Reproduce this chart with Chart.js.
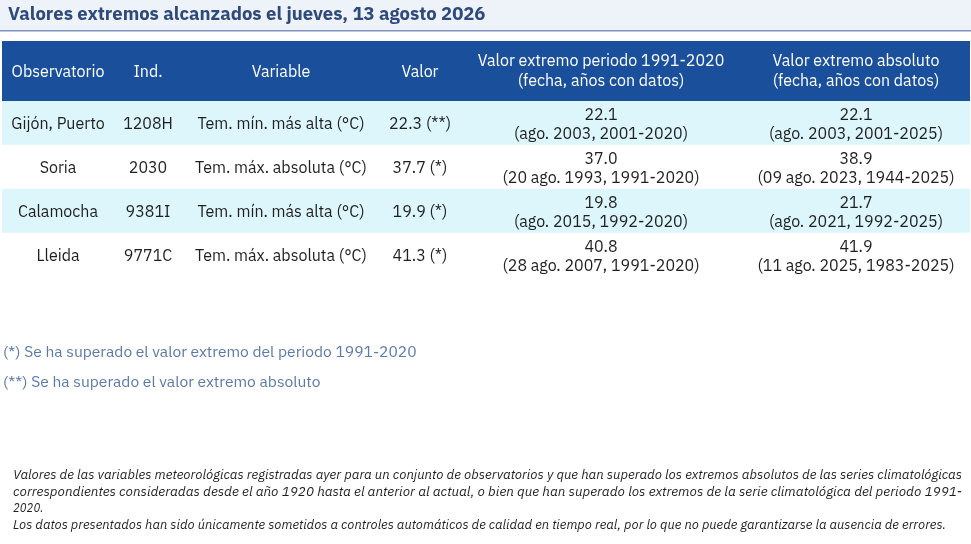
<!DOCTYPE html>
<html><head><meta charset="utf-8">
<script src="https://cdn.jsdelivr.net/npm/chart.js@4"></script>
<style>html,body{margin:0;padding:0;background:#fff;}#wrap{width:971px;height:544px;position:relative;}</style>
</head><body><div id="wrap"><canvas id="c"></canvas></div>
<script>
const titleText = 'Valores extremos alcanzados el jueves, 13 agosto 2026';
const headers = [['Observatorio'], ['Ind.'], ['Variable'], ['Valor'],
  ['Valor extremo periodo 1991-2020', '(fecha, años con datos)'],
  ['Valor extremo absoluto', '(fecha, años con datos)']];
const observatorios = ['Gijón, Puerto', 'Soria', 'Calamocha', 'Lleida'];
const indicativos = ['1208H', '2030', '9381I', '9771C'];
const variables = ['Tem. mín. más alta (°C)', 'Tem. máx. absoluta (°C)', 'Tem. mín. más alta (°C)', 'Tem. máx. absoluta (°C)'];
const valores = [22.3, 37.7, 19.9, 41.3];
const marcas = ['(**)', '(*)', '(*)', '(*)'];
const extPeriodoValor = [22.1, 37.0, 19.8, 40.8];
const extPeriodoFecha = ['(ago. 2003, 2001-2020)', '(20 ago. 1993, 1991-2020)', '(ago. 2015, 1992-2020)', '(28 ago. 2007, 1991-2020)'];
const extAbsValor = [22.1, 38.9, 21.7, 41.9];
const extAbsFecha = ['(ago. 2003, 2001-2025)', '(09 ago. 2023, 1944-2025)', '(ago. 2021, 1992-2025)', '(11 ago. 2025, 1983-2025)'];
const notas = ['(*) Se ha superado el valor extremo del periodo 1991-2020', '(**) Se ha superado el valor extremo absoluto'];
const pie = ['Valores de las variables meteorológicas registradas ayer para un conjunto de observatorios y que han superado los extremos absolutos de las series climatológicas',
  'correspondientes consideradas desde el año 1920 hasta el anterior al actual, o bien que han superado los extremos de la serie climatológica del periodo 1991-',
  '2020.',
  'Los datos presentados han sido únicamente sometidos a controles automáticos de calidad en tiempo real, por lo que no puede garantizarse la ausencia de errores.'];

// layout (not data)
const colCenters = [56, 146, 279, 418, 599, 854];
const FONT = '"IBM Plex Sans", "Noto Sans", sans-serif';
const rowColors = observatorios.map((_, i) => i % 2 === 0 ? '#ddf6fc' : '#ffffff');

const tablePlugin = {
  id: 'tablePlugin',
  beforeDraw(chart) {
    const ctx = chart.ctx, ca = chart.chartArea, xs = chart.scales.x;
    ctx.save();
    ctx.fillStyle = '#eef2f9';
    ctx.fillRect(0, 0, chart.width, 30);
    ctx.fillStyle = '#7d96c2';
    ctx.fillRect(0, 30, chart.width, 1.5);
    ctx.fillStyle = '#2e4a7b';
    ctx.font = 'bold 18.5px ' + FONT;
    ctx.textBaseline = 'middle';
    ctx.textAlign = 'left';
    ctx.fillText(titleText, 8, 15);
    ctx.fillStyle = '#1a4f9c';
    ctx.fillRect(ca.left, 41, ca.right - ca.left, ca.top - 41);
    ctx.fillStyle = '#ffffff';
    ctx.font = '16px ' + FONT;
    ctx.textAlign = 'center';
    const hc = (41 + ca.top) / 2;
    headers.forEach((h, i) => {
      const x = xs.getPixelForValue(colCenters[i]);
      if (h.length === 1) ctx.fillText(h[0], x, hc + 1);
      else { ctx.fillText(h[0], x, hc - 10); ctx.fillText(h[1], x, hc + 10); }
    });
    ctx.restore();
  },
  afterDatasetsDraw(chart) {
    const ctx = chart.ctx, xs = chart.scales.x, ys = chart.scales.y;
    ctx.save();
    ctx.fillStyle = '#1f1f1f';
    ctx.font = '16px ' + FONT;
    ctx.textAlign = 'center';
    ctx.textBaseline = 'middle';
    observatorios.forEach((o, r) => {
      const y = ys.getPixelForValue(r) + 1.5;
      const cells = [[o], [indicativos[r]], [variables[r]], [valores[r].toFixed(1) + ' ' + marcas[r]],
        [extPeriodoValor[r].toFixed(1), extPeriodoFecha[r]], [extAbsValor[r].toFixed(1), extAbsFecha[r]]];
      cells.forEach((c, i) => {
        const x = xs.getPixelForValue(colCenters[i]);
        if (c.length === 1) ctx.fillText(c[0], x, y);
        else { ctx.fillText(c[0], x, y - 9.5); ctx.fillText(c[1], x, y + 9.5); }
      });
    });
    ctx.textAlign = 'left';
    ctx.fillStyle = '#5c7aa8';
    ctx.font = '15.6px ' + FONT;
    ctx.fillText(notas[0], 3, 352);
    ctx.fillText(notas[1], 3, 382);
    // footer, fitted to the reference line widths
    ctx.fillStyle = '#1f1f1f';
    ctx.font = 'italic 13.5px ' + FONT;
    const widths = [949, 949, null, 933];
    const ys2 = [475, 492, 508, 525];
    pie.forEach((t, i) => {
      const w = ctx.measureText(t).width;
      const s = widths[i] ? widths[i] / w : 0.84;
      ctx.save();
      ctx.translate(13, ys2[i]);
      ctx.scale(s, 1);
      ctx.fillText(t, 0, 0);
      ctx.restore();
    });
    ctx.restore();
  }
};

new Chart(document.getElementById('c'), {
  type: 'bar',
  data: {
    labels: observatorios,
    datasets: [{
      data: observatorios.map(() => [0, 968]),
      backgroundColor: rowColors,
      borderWidth: 0,
      barPercentage: 1,
      categoryPercentage: 1
    }]
  },
  options: {
    indexAxis: 'y',
    responsive: true,
    maintainAspectRatio: false,
    animation: false,
    layout: { padding: { top: 101, bottom: 267, left: 2, right: 1 } },
    scales: {
      x: { display: false, min: 0, max: 968 },
      y: { display: false }
    },
    plugins: { legend: { display: false }, tooltip: { enabled: false }, title: { display: false } }
  },
  plugins: [tablePlugin]
});
</script></body></html>
